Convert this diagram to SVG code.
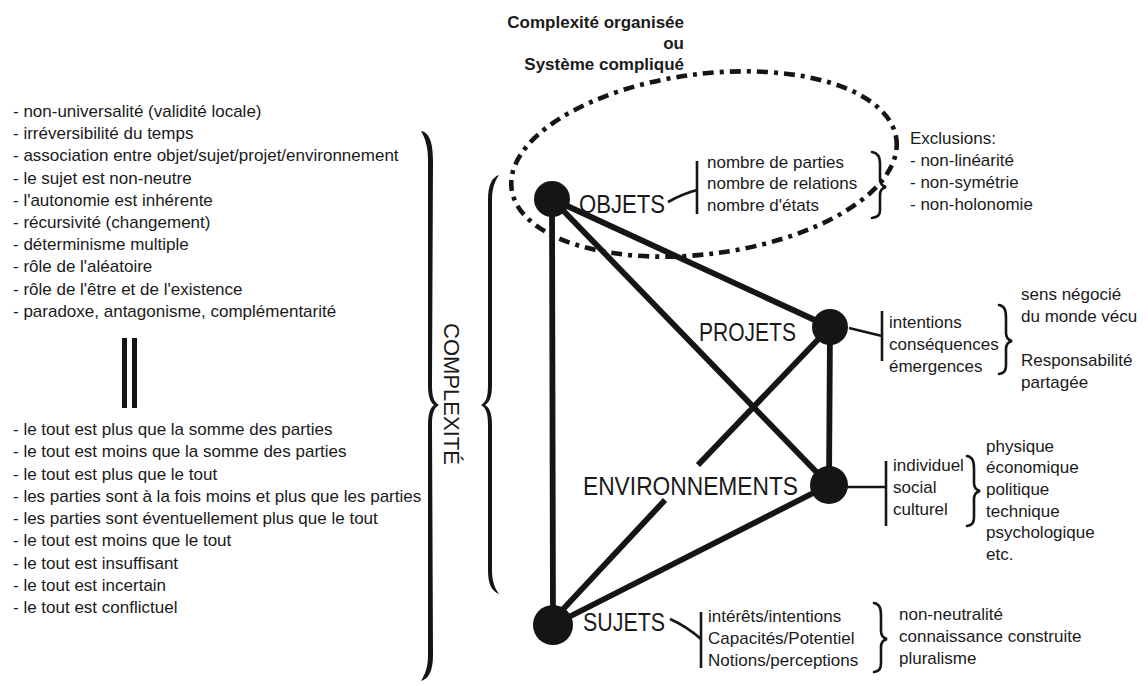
<svg xmlns="http://www.w3.org/2000/svg" width="1148" height="686" viewBox="0 0 1148 686">
<style>
.t{font-family:"Liberation Sans",Arial,sans-serif;font-size:17px;fill:#1a1a1a}
.lbl{font-family:"Liberation Sans",Arial,sans-serif;font-size:25px;fill:#1a1a1a}
.ttl{font-family:"Liberation Sans",Arial,sans-serif;font-size:17px;font-weight:bold;fill:#1a1a1a}
.edge{stroke:#151515;stroke-width:5.8;stroke-linecap:butt;fill:none}
.bar{stroke:#151515;stroke-width:2.6;fill:none}
.tick{stroke:#151515;stroke-width:2.6;fill:none}
.brace{stroke:#151515;stroke-width:2.6;fill:none;stroke-linecap:round}
.bigbrace{fill:#151515}
.dot{fill:#151515}
.ell{fill:none;stroke:#151515;stroke-width:4.6;stroke-dasharray:11 6 4 6}
</style>
<rect width="1148" height="686" fill="#fff"/>

<g id="title">
<text class="ttl" x="684" y="28" text-anchor="end">Complexité organisée</text>
<text class="ttl" x="684" y="49" text-anchor="end">ou</text>
<text class="ttl" x="684" y="70" text-anchor="end">Système compliqué</text>
</g>

<g id="list-top" class="t">
<text x="13" y="117">- non-universalité (validité locale)</text>
<text x="13" y="139.2">- irréversibilité du temps</text>
<text x="13" y="161.4">- association entre objet/sujet/projet/environnement</text>
<text x="13" y="183.6">- le sujet est non-neutre</text>
<text x="13" y="205.8">- l'autonomie est inhérente</text>
<text x="13" y="228">- récursivité (changement)</text>
<text x="13" y="250.2">- déterminisme multiple</text>
<text x="13" y="272.4">- rôle de l'aléatoire</text>
<text x="13" y="294.6">- rôle de l'être et de l'existence</text>
<text x="13" y="316.8">- paradoxe, antagonisme, complémentarité</text>
</g>

<g id="equal-bars">
<rect x="122" y="338" width="5" height="70" fill="#151515"/>
<rect x="132" y="338" width="5" height="70" fill="#151515"/>
</g>

<g id="list-bottom" class="t">
<text x="13" y="435">- le tout est plus que la somme des parties</text>
<text x="13" y="457.25">- le tout est moins que la somme des parties</text>
<text x="13" y="479.5">- le tout est plus que le tout</text>
<text x="13" y="501.75">- les parties sont à la fois moins et plus que les parties</text>
<text x="13" y="524">- les parties sont éventuellement plus que le tout</text>
<text x="13" y="546.25">- le tout est moins que le tout</text>
<text x="13" y="568.5">- le tout est insuffisant</text>
<text x="13" y="590.75">- le tout est incertain</text>
<text x="13" y="613">- le tout est conflictuel</text>
</g>

<g id="complexite">
<path class="bigbrace" d="M421,131 C428,132 433,140 433,160 L432,385 C432,397 434,402 439,405 C434,408 432,413 432,425 L433,655 C433,672 428,679 421,681 C425,674 428,668 428,655 L428,425 C428,414 430,408 434,405 C430,402 428,396 428,385 L428,160 C428,146 425,138 421,131 Z"/>
<path class="bigbrace" d="M499,175 C492,177 488,185 488,200 L488,385 C488,397 486,402 481,405 C486,408 488,413 488,425 L488,570 C488,585 492,591 499,594 C495,588 492,582 492,570 L492,425 C492,414 490,408 485,405 C490,402 492,396 492,385 L492,200 C492,188 495,181 499,175 Z"/>
<text class="lbl" transform="translate(444,394) rotate(90)" text-anchor="middle" style="font-size:22px">COMPLEXITÉ</text>
</g>

<ellipse id="systeme-complique" class="ell" cx="704" cy="164" rx="194" ry="90" transform="rotate(-7.4 704 164)"/>

<g id="connectors">
<line class="edge" x1="552" y1="199" x2="553" y2="625"/>
<line class="edge" x1="552" y1="199" x2="830" y2="327"/>
<line class="edge" x1="552" y1="199" x2="829" y2="485"/>
<line class="edge" x1="830" y1="327" x2="829" y2="485"/>
<path class="edge" d="M830,327 L698,465 M665,500 L553,620"/>
<line class="edge" x1="829" y1="485" x2="553" y2="625"/>
</g>

<g id="objets">
<circle class="dot" cx="552" cy="199" r="18"/>
<text class="lbl" x="579" y="213" textLength="86" lengthAdjust="spacingAndGlyphs">OBJETS</text>
<path class="tick" d="M668,202 Q682,194 697,190"/>
<line class="bar" x1="697" y1="161" x2="697" y2="214"/>
<text class="t" x="707" y="168">nombre de parties</text>
<text class="t" x="707" y="189">nombre de relations</text>
<text class="t" x="707" y="211">nombre d'états</text>
<path class="brace" d="M872,152 C878,153 880,157 880,163 L880,179 C880,184 882,186 886,187 C882,188 880,190 880,195 L880,210 C880,215 878,217 872,218"/>
</g>

<g id="exclusions">
<text class="t" x="910" y="144">Exclusions:</text>
<text class="t" x="910" y="166">- non-linéarité</text>
<text class="t" x="910" y="188">- non-symétrie</text>
<text class="t" x="910" y="210">- non-holonomie</text>
</g>

<g id="projets">
<circle class="dot" cx="830" cy="327" r="18"/>
<text class="lbl" x="699" y="341" textLength="97" lengthAdjust="spacingAndGlyphs">PROJETS</text>
<line class="tick" x1="849" y1="328" x2="882" y2="336"/>
<line class="bar" x1="882" y1="311" x2="882" y2="361"/>
<text class="t" x="889" y="328">intentions</text>
<text class="t" x="889" y="350">conséquences</text>
<text class="t" x="889" y="372">émergences</text>
<path class="brace" d="M999,305 C1005,306 1006,311 1006,318 L1006,333 C1006,338 1008,340 1012,341 C1008,342 1006,344 1006,349 L1006,365 C1006,370 1005,373 999,374"/>
<text class="t" x="1021" y="300">sens négocié</text>
<text class="t" x="1021" y="322">du monde vécu</text>
<text class="t" x="1021" y="366">Responsabilité</text>
<text class="t" x="1021" y="388">partagée</text>
</g>

<g id="environnements">
<circle class="dot" cx="829" cy="485" r="19"/>
<text class="lbl" x="583" y="495" textLength="215" lengthAdjust="spacingAndGlyphs">ENVIRONNEMENTS</text>
<line class="tick" x1="847" y1="487" x2="886" y2="487"/>
<line class="bar" x1="886" y1="461" x2="886" y2="526"/>
<text class="t" x="893" y="471">individuel</text>
<text class="t" x="893" y="493">social</text>
<text class="t" x="893" y="515">culturel</text>
<path class="brace" d="M967,456 C973,457 974,462 974,469 L974,483 C974,488 976,490 980,491 C976,492 974,494 974,499 L974,517 C974,522 973,525 967,526"/>
<text class="t" x="986" y="452">physique</text>
<text class="t" x="986" y="473">économique</text>
<text class="t" x="986" y="495">politique</text>
<text class="t" x="986" y="517">technique</text>
<text class="t" x="986" y="538">psychologique</text>
<text class="t" x="986" y="560">etc.</text>
</g>

<g id="sujets">
<circle class="dot" cx="553" cy="625" r="20"/>
<text class="lbl" x="583" y="631" textLength="82" lengthAdjust="spacingAndGlyphs">SUJETS</text>
<path class="tick" d="M670,619 Q686,626 701,639"/>
<line class="bar" x1="701" y1="612" x2="701" y2="668"/>
<text class="t" x="708" y="622">intérêts/intentions</text>
<text class="t" x="708" y="644">Capacités/Potentiel</text>
<text class="t" x="708" y="666">Notions/perceptions</text>
<path class="brace" d="M874,603 C880,604 881,609 881,616 L881,631 C881,636 883,638 887,639 C883,640 881,642 881,647 L881,663 C881,668 880,671 874,672"/>
<text class="t" x="899" y="620">non-neutralité</text>
<text class="t" x="899" y="642">connaissance construite</text>
<text class="t" x="899" y="664">pluralisme</text>
</g>
</svg>
